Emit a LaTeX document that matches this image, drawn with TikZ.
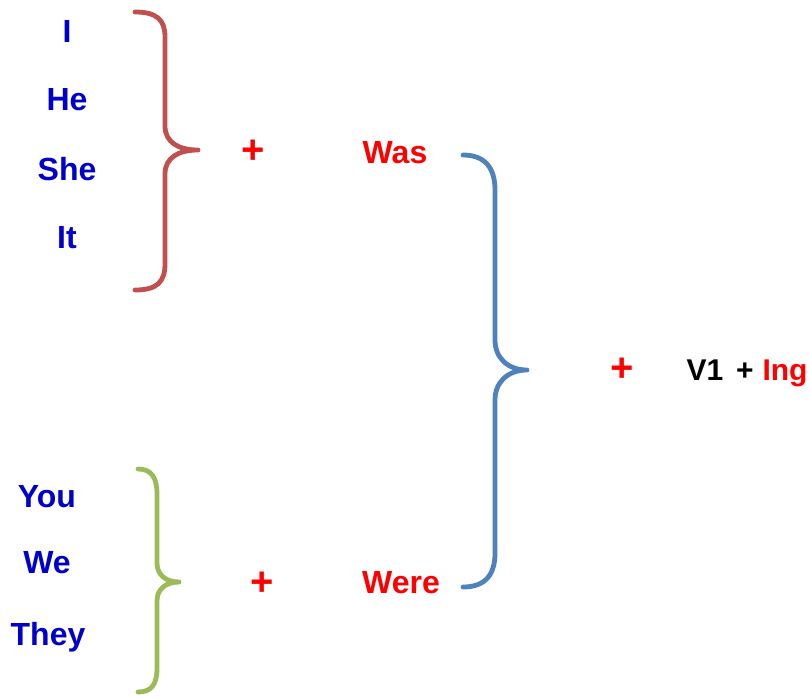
\documentclass[tikz,border=0pt]{standalone}
\usepackage{fontspec}
\setmainfont{Liberation Sans}
\usepackage{tikz}
\definecolor{pronblue}{RGB}{0,0,204}
\definecolor{bracered}{RGB}{192,80,77}
\definecolor{braceblue}{RGB}{79,129,189}
\definecolor{bracegreen}{RGB}{155,187,89}
\begin{document}
\begin{tikzpicture}[x=1pt,y=-1pt]
\tikzstyle{word}=[anchor=base,inner sep=0pt,font=\bfseries\fontsize{30}{36}\selectfont]
\tikzstyle{pron}=[word,text=pronblue,font=\bfseries\fontsize{32}{38}\selectfont]
\tikzstyle{aux}=[word,text=red,font=\bfseries\fontsize{32}{38}\selectfont]
\tikzstyle{plus}=[anchor=base,inner sep=0pt,text=red,font=\bfseries\fontsize{40}{44}\selectfont]
\tikzstyle{brace}=[line width=4.8pt,line cap=round,line join=round]
\useasboundingbox (0,0) rectangle (809,697);
% subjects
\node[pron] (i) at (67,42) {I};
\node[pron] (he) at (67,110) {He};
\node[pron] (she) at (67,180) {She};
\node[pron] (it) at (67,248) {It};
\node[pron] (you) at (47,507) {You};
\node[pron] (we) at (47,573) {We};
\node[pron] (they) at (48,645) {They};
% plus signs and auxiliaries
\node[plus] (p1) at (253,163) {+};
\node[aux] (was) at (395,163) {Was};
\node[plus] (p2) at (262,595) {+};
\node[aux] (were) at (401,593) {Were};
\node[plus] (p3) at (622,381) {+};
\node[word] (v1) at (705,380) {V1};
\node[word] (vp) at (745,380) {+};
\node[word,text=red] (ing) at (785,380) {Ing};
% braces
\draw[brace,bracered] (135,12) .. controls (157,12) and (165,20) .. (165,37) -- (165,126)
  .. controls (165,142) and (178,150) .. (198,150)
  .. controls (178,150) and (165,158) .. (165,174) -- (165,264)
  .. controls (165,282) and (157,290) .. (135,290);
\draw[brace,braceblue] (463,155) .. controls (485,155) and (495,168) .. (495,190) -- (495,340)
  .. controls (495,358) and (508,370) .. (527,370)
  .. controls (508,370) and (495,382) .. (495,400) -- (495,553)
  .. controls (495,575) and (485,587) .. (463,587);
\draw[brace,bracegreen] (138,469) .. controls (151,469) and (157,477) .. (157,494) -- (157,563)
  .. controls (157,575) and (166,582) .. (179,582)
  .. controls (166,582) and (157,589) .. (157,601) -- (157,668)
  .. controls (157,685) and (151,692) .. (138,692);
\end{tikzpicture}
\end{document}
